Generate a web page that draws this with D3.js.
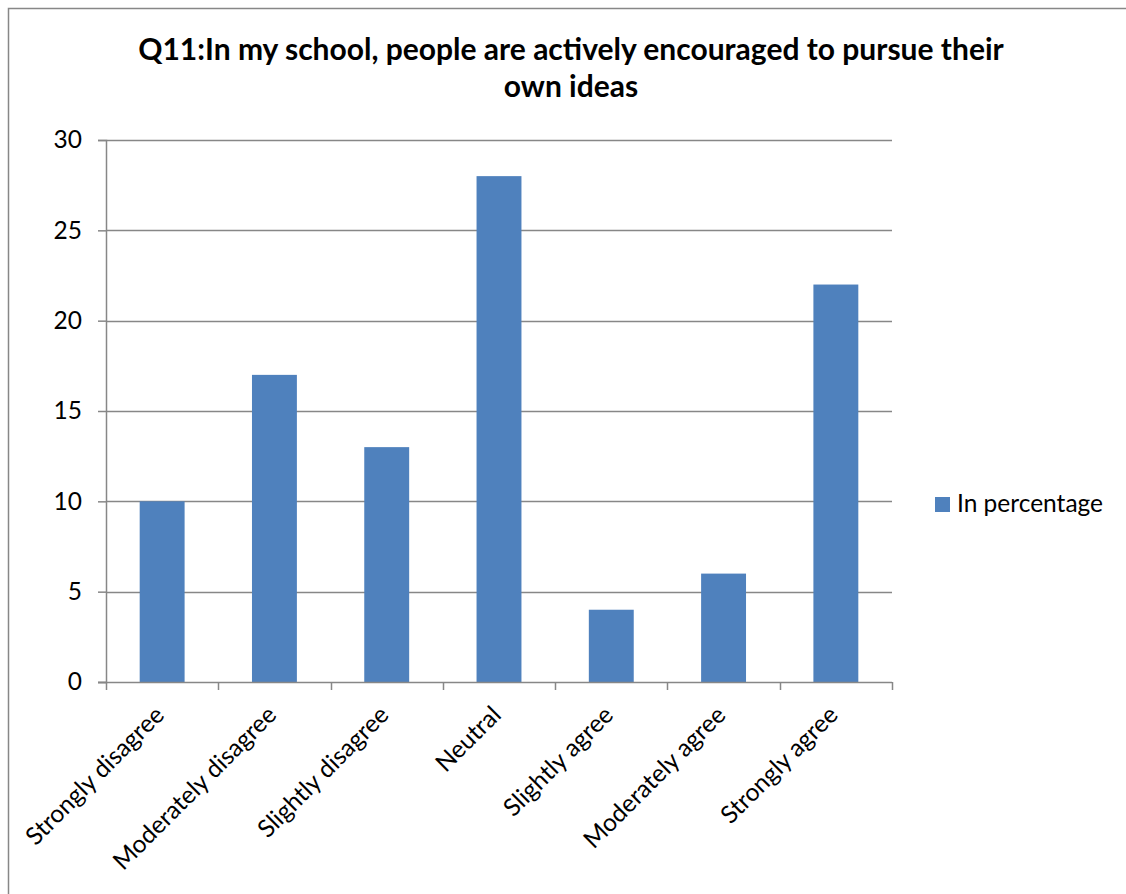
<!DOCTYPE html>
<html>
<head>
<meta charset="utf-8">
<script src="https://cdn.jsdelivr.net/npm/d3@7"></script>
<style>
  html, body { margin: 0; padding: 0; background: #fff; }
  svg { display: block; }
  text { font-family: Lato, "Open Sans", sans-serif; fill: #000; }
</style>
</head>
<body>
<svg id="chart" width="1126" height="894"></svg>
<script>
// Survey responses for Q11, in percent
const categories = ["Strongly disagree", "Moderately disagree", "Slightly disagree", "Neutral",
                    "Slightly agree", "Moderately agree", "Strongly agree"];
const values = [10, 17, 13, 28, 4, 6, 22];
const yTicks = [0, 5, 10, 15, 20, 25, 30];
const seriesName = "In percentage";
const titleLines = ["Q11:In my school, people are actively encouraged to pursue their", "own ideas"];

const W = 1126, H = 894;
const plot = { left: 106, right: 892, top: 140, bottom: 682 };
const gridColor = "#878787";
const barColor = "#4F81BD";

const svg = d3.select("#chart");

// Chart frame (extends beyond the visible canvas on the right and bottom)
svg.append("rect")
  .attr("x", 8.5).attr("y", 8.5)
  .attr("width", W + 20).attr("height", H + 20)
  .attr("fill", "#fff").attr("stroke", gridColor).attr("stroke-width", 1.5);

const x = d3.scaleBand()
  .domain(categories)
  .range([plot.left, plot.right])
  .paddingInner(0.6)
  .paddingOuter(0.3);

const y = d3.scaleLinear().domain([0, 30]).range([plot.bottom, plot.top]);

// Horizontal gridlines
svg.append("g")
  .selectAll("line")
  .data(yTicks.filter(t => t > 0))
  .join("line")
  .attr("x1", plot.left).attr("x2", plot.right)
  .attr("y1", d => Math.round(y(d)) + 0.5).attr("y2", d => Math.round(y(d)) + 0.5)
  .attr("stroke", gridColor).attr("stroke-width", 1.5);

// Bars
svg.append("g")
  .selectAll("rect")
  .data(values)
  .join("rect")
  .attr("x", (d, i) => x(categories[i]))
  .attr("width", x.bandwidth())
  .attr("y", d => y(d))
  .attr("height", d => y(0) - y(d))
  .attr("fill", barColor);

// Y axis
const yAxis = svg.append("g")
  .attr("transform", `translate(${plot.left},0)`)
  .call(d3.axisLeft(y).tickValues(yTicks).tickSize(8).tickPadding(16).tickFormat(d3.format("d")));
yAxis.select(".domain").attr("stroke", gridColor).attr("stroke-width", 1.5);
yAxis.selectAll(".tick line").attr("stroke", gridColor).attr("stroke-width", 1.5);
yAxis.selectAll(".tick text")
  .attr("font-size", 24.5).attr("font-family", "Lato, sans-serif").attr("fill", "#000");

// X axis with tick marks at category boundaries
const boundaries = d3.range(categories.length + 1).map(i =>
  i < categories.length ? x(categories[i]) - x.step() * 0.3 : plot.right);
svg.append("line")
  .attr("x1", plot.left - 8).attr("x2", plot.right)
  .attr("y1", plot.bottom + 0.5).attr("y2", plot.bottom + 0.5)
  .attr("stroke", gridColor).attr("stroke-width", 1.5);
svg.append("g")
  .selectAll("line")
  .data(boundaries)
  .join("line")
  .attr("x1", d => Math.round(d) + 0.5).attr("x2", d => Math.round(d) + 0.5)
  .attr("y1", plot.bottom).attr("y2", plot.bottom + 8)
  .attr("stroke", gridColor).attr("stroke-width", 1.5);

// Rotated category labels
svg.append("g")
  .selectAll("text")
  .data(categories)
  .join("text")
  .attr("transform", d => `translate(${x(d) + x.bandwidth() / 2 - 9},${plot.bottom + 22}) rotate(-45)`)
  .attr("text-anchor", "end")
  .attr("dy", "0.72em")
  .attr("font-size", 24.5)
  .text(d => d);

// Title
svg.append("g")
  .selectAll("text")
  .data(titleLines)
  .join("text")
  .attr("x", 571)
  .attr("y", (d, i) => 60 + i * 37)
  .attr("text-anchor", "middle")
  .attr("font-weight", "bold")
  .attr("font-size", 30)
  .text(d => d);

// Legend
const legend = svg.append("g").attr("transform", "translate(935,497)");
legend.append("rect").attr("width", 15).attr("height", 15).attr("fill", barColor);
legend.append("text").attr("x", 22).attr("y", 15).attr("font-size", 24.5).text(seriesName);
</script>
</body>
</html>
